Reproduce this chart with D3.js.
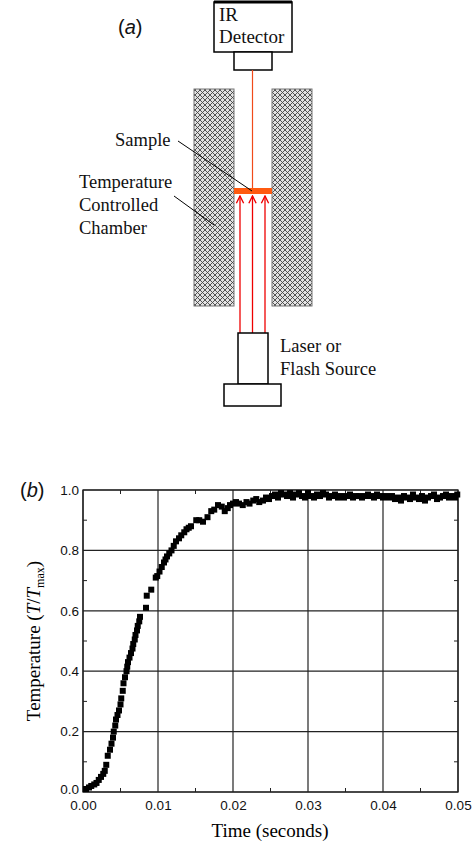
<!DOCTYPE html>
<html><head><meta charset="utf-8">
<script src="https://cdn.jsdelivr.net/npm/d3@7"></script>
<style>body{margin:0;background:#fff}</style></head>
<body><svg id="c" width="474" height="847"></svg>
<script>
const timeS = [0.0004,0.0008,0.0011,0.0015,0.0018,0.0021,0.0024,0.0027,0.0029,0.0031,0.0033,0.0036,0.0038,0.0040,0.0041,0.0043,0.0044,0.0046,0.0048,0.0050,0.0051,0.0053,0.0054,0.0056,0.0058,0.0059,0.0060,0.0062,0.0064,0.0066,0.0067,0.0069,0.0070,0.0072,0.0073,0.0075,0.0076,0.0084,0.0085,0.0091,0.0097,0.0099,0.0102,0.0105,0.0108,0.0110,0.0112,0.0115,0.0118,0.0121,0.0124,0.0128,0.0131,0.0135,0.0138,0.0141,0.0144,0.0151,0.0155,0.0160,0.0166,0.0171,0.0175,0.0180,0.0185,0.0189,0.0193,0.0196,0.0200,0.0204,0.0208,0.0213,0.0218,0.0222,0.0227,0.0231,0.0235,0.0240,0.0244,0.0248,0.0252,0.0256,0.0260,0.0264,0.0268,0.0272,0.0276,0.0280,0.0284,0.0288,0.0292,0.0296,0.0300,0.0304,0.0308,0.0312,0.0316,0.0320,0.0324,0.0328,0.0332,0.0336,0.0340,0.0344,0.0348,0.0352,0.0356,0.0360,0.0364,0.0368,0.0372,0.0376,0.0380,0.0384,0.0388,0.0392,0.0396,0.0400,0.0404,0.0408,0.0412,0.0416,0.0420,0.0424,0.0428,0.0432,0.0436,0.0440,0.0444,0.0448,0.0452,0.0456,0.0460,0.0464,0.0468,0.0472,0.0476,0.0480,0.0484,0.0488,0.0492,0.0496,0.0499];
const tempN = [0.01,0.015,0.02,0.025,0.03,0.04,0.05,0.06,0.07,0.09,0.12,0.14,0.16,0.18,0.20,0.22,0.24,0.255,0.27,0.29,0.31,0.335,0.36,0.38,0.40,0.415,0.43,0.445,0.46,0.475,0.49,0.505,0.52,0.535,0.55,0.565,0.58,0.61,0.65,0.67,0.71,0.715,0.73,0.745,0.76,0.77,0.78,0.79,0.80,0.815,0.83,0.84,0.85,0.86,0.87,0.875,0.88,0.90,0.90,0.895,0.91,0.93,0.935,0.95,0.945,0.93,0.94,0.95,0.955,0.96,0.955,0.95,0.96,0.955,0.965,0.97,0.96,0.965,0.975,0.97,0.98,0.985,0.975,0.99,0.985,0.98,0.99,0.975,0.985,0.99,0.98,0.975,0.99,0.98,0.975,0.985,0.98,0.99,0.985,0.975,0.98,0.985,0.975,0.98,0.975,0.98,0.985,0.975,0.98,0.98,0.975,0.98,0.985,0.98,0.975,0.985,0.98,0.975,0.98,0.975,0.98,0.97,0.975,0.965,0.98,0.975,0.97,0.985,0.975,0.97,0.98,0.965,0.975,0.98,0.985,0.97,0.975,0.98,0.985,0.975,0.98,0.975,0.985,0.98,0.975];
const xTicks = [0,0.01,0.02,0.03,0.04,0.05];
const yTicks = [0,0.2,0.4,0.6,0.8,1.0];

const svg = d3.select("#c");
const serif = "'Liberation Serif','Times New Roman',serif";
const sans = "'Liberation Sans',Arial,sans-serif";

// ---- diagram (a)
const defs = svg.append("defs");
const pat = defs.append("pattern").attr("id","hatch").attr("width",5).attr("height",5).attr("patternUnits","userSpaceOnUse");
pat.append("rect").attr("width",5).attr("height",5).attr("fill","#e2e2e2");
pat.append("path").attr("d","M0,0L5,5M5,0L0,5").attr("stroke","#444").attr("stroke-width",0.9);
const mk = defs.append("marker").attr("id","arr").attr("viewBox","0 0 10 10").attr("refX",9).attr("refY",5)
  .attr("markerWidth",7).attr("markerHeight",7).attr("orient","auto");
mk.append("path").attr("d","M1,1L9,5L1,9").attr("fill","none").attr("stroke","#e00").attr("stroke-width",1.5);

const a = svg.append("g");
a.append("rect").attr("x",214).attr("y",2).attr("width",78).attr("height",50).attr("fill","#fff").attr("stroke","#000").attr("stroke-width",1.5);
a.append("line").attr("x1",214).attr("x2",292).attr("y1",2).attr("y2",2).attr("stroke","#000").attr("stroke-width",3);
a.append("rect").attr("x",234).attr("y",52).attr("width",38).attr("height",18).attr("fill","#fff").attr("stroke","#000").attr("stroke-width",1.5);
a.append("line").attr("x1",252.5).attr("x2",252.5).attr("y1",70).attr("y2",190).attr("stroke","#f04a1a").attr("stroke-width",1.2);
a.append("rect").attr("x",194).attr("y",89).attr("width",40).attr("height",217).attr("fill","url(#hatch)").attr("stroke","#777");
a.append("rect").attr("x",272).attr("y",89).attr("width",40).attr("height",217).attr("fill","url(#hatch)").attr("stroke","#777");
a.append("rect").attr("x",234).attr("y",188).attr("width",38).attr("height",6).attr("fill","#ff5a10");
[240,252.5,265].forEach(x=>a.append("line").attr("x1",x).attr("x2",x).attr("y1",333).attr("y2",196)
  .attr("stroke","#e00").attr("stroke-width",1.3).attr("marker-end","url(#arr)"));
a.append("rect").attr("x",238).attr("y",333).attr("width",30).attr("height",51).attr("fill","#fff").attr("stroke","#000").attr("stroke-width",1.5);
a.append("rect").attr("x",224).attr("y",384).attr("width",57).attr("height",22).attr("fill","#fff").attr("stroke","#000").attr("stroke-width",1.5);
a.append("line").attr("x1",178).attr("y1",141).attr("x2",252).attr("y2",191).attr("stroke","#000");
a.append("line").attr("x1",174).attr("y1",196).attr("x2",214).attr("y2",225).attr("stroke","#000");
const txt=(g,x,y,s,f,sz,st)=>g.append("text").attr("x",x).attr("y",y).text(s).attr("font-family",f).attr("font-size",sz).attr("font-style",st||"normal").attr("fill","#111");
txt(a,118,34,"(","sans-serif",20).append("tspan").attr("font-style","italic").text("a").append("tspan").attr("font-style","normal").text(")");
txt(a,219,21,"IR",serif,19); txt(a,219,43,"Detector",serif,19);
txt(a,115,146,"Sample",serif,18.5);
txt(a,79,188,"Temperature",serif,18.5); txt(a,79,211,"Controlled",serif,18.5); txt(a,79,234,"Chamber",serif,18.5);
txt(a,280,352,"Laser or",serif,18.5); txt(a,280,375,"Flash Source",serif,18.5);

// ---- chart (b)
const L=83,R=458,T=490,B=792;
const x=d3.scaleLinear().domain([0,0.05]).range([L,R]);
const y=d3.scaleLinear().domain([0,1]).range([B,T]);
const g=svg.append("g");
g.selectAll(".gx").data(xTicks).join("line").attr("x1",d=>x(d)).attr("x2",d=>x(d)).attr("y1",T).attr("y2",B).attr("stroke","#222").attr("stroke-width",1.2);
g.selectAll(".gy").data(yTicks).join("line").attr("y1",d=>y(d)).attr("y2",d=>y(d)).attr("x1",L).attr("x2",R).attr("stroke","#222").attr("stroke-width",1.2);
const minX=d3.range(0.005,0.05,0.01), minY=d3.range(0.1,1,0.2);
minX.forEach(v=>{g.append("line").attr("x1",x(v)).attr("x2",x(v)).attr("y1",B).attr("y2",B-4).attr("stroke","#222");g.append("line").attr("x1",x(v)).attr("x2",x(v)).attr("y1",T).attr("y2",T+4).attr("stroke","#222");});
minY.forEach(v=>{g.append("line").attr("y1",y(v)).attr("y2",y(v)).attr("x1",L).attr("x2",L+4).attr("stroke","#222");g.append("line").attr("y1",y(v)).attr("y2",y(v)).attr("x1",R).attr("x2",R-4).attr("stroke","#222");});
g.append("rect").attr("x",L).attr("y",T).attr("width",R-L).attr("height",B-T).attr("fill","none").attr("stroke","#222").attr("stroke-width",1.3);
const xa=g.append("g").attr("transform",`translate(0,${B})`).call(d3.axisBottom(x).tickValues(xTicks).tickFormat(d3.format(".2f")).tickSize(0).tickPadding(8));
const ya=g.append("g").attr("transform",`translate(${L},0)`).call(d3.axisLeft(y).tickValues(yTicks).tickFormat(d3.format(".1f")).tickSize(0).tickPadding(4));
[xa,ya].forEach(ax=>{ax.select(".domain").remove();ax.selectAll("text").attr("font-family",sans).attr("font-size",13.5).attr("fill","#111");});
ya.selectAll("text").filter(d=>d===0).attr("dy","0.1em");
g.selectAll(".pt").data(timeS.map((t,i)=>[t,tempN[i]])).join("rect")
  .attr("x",d=>x(d[0])-3).attr("y",d=>y(d[1])-3).attr("width",6).attr("height",6).attr("fill","#000");
txt(g,20,497,"(","sans-serif",20).append("tspan").attr("font-style","italic").text("b").append("tspan").attr("font-style","normal").text(")");
g.append("text").attr("x",270).attr("y",837).attr("text-anchor","middle").attr("font-family",serif).attr("font-size",19).text("Time (seconds)");
const yl=g.append("text").attr("transform","translate(40,641) rotate(-90)").attr("text-anchor","middle").attr("font-family",serif).attr("font-size",19);
yl.append("tspan").text("Temperature (");yl.append("tspan").attr("font-style","italic").text("T");yl.append("tspan").text("/");
yl.append("tspan").attr("font-style","italic").text("T");yl.append("tspan").attr("font-size",12).attr("dy",4).text("max");yl.append("tspan").attr("dy",-4).text(")");
</script></body></html>
